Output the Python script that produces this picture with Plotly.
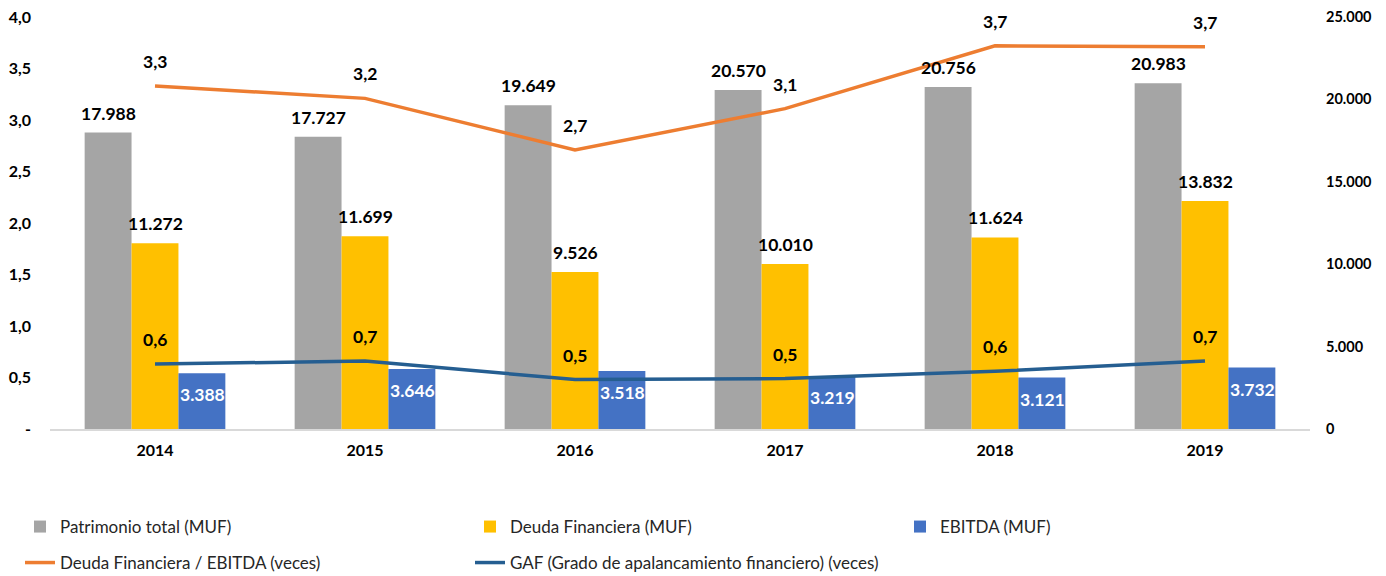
import plotly.graph_objects as go

years = ["2014", "2015", "2016", "2017", "2018", "2019"]
patrimonio = [17988, 17727, 19649, 20570, 20756, 20983]
deuda = [11272, 11699, 9526, 10010, 11624, 13832]
ebitda = [3388, 3646, 3518, 3219, 3121, 3732]
deuda_ebitda = [3.33, 3.21, 2.71, 3.11, 3.72, 3.71]
gaf = [0.63, 0.66, 0.48, 0.49, 0.56, 0.66]

left_tickvals = [0, 0.5, 1.0, 1.5, 2.0, 2.5, 3.0, 3.5, 4.0]
left_ticktext = ["-", "0,5", "1,0", "1,5", "2,0", "2,5", "3,0", "3,5", "4,0"]
right_tickvals = [0, 5000, 10000, 15000, 20000, 25000]

names = ["Patrimonio total (MUF)", "Deuda Financiera (MUF)", "EBITDA (MUF)",
         "Deuda Financiera / EBITDA (veces)",
         "GAF (Grado de apalancamiento financiero) (veces)"]

C_GRAY = "#A5A5A5"
C_YEL = "#FFC000"
C_BLUE = "#4472C4"
C_ORANGE = "#ED7D31"
C_DBLUE = "#255E91"
FONT = "Lato, 'Open Sans', sans-serif"

# legend placement (container pixels): (legend id, left x, center y)
legend_slots = [("legend", 20, 527), ("legend2", 470, 527), ("legend3", 900, 527),
                ("legend4", 20, 563), ("legend5", 470, 563)]


def fmt_int(v):
    return f"{v:,}".replace(",", ".")


def fmt_dec(v):
    return f"{v:.1f}".replace(".", ",")


fig = go.Figure()
for k, (vals, col) in enumerate([(patrimonio, C_GRAY), (deuda, C_YEL), (ebitda, C_BLUE)]):
    fig.add_trace(go.Bar(x=years, y=vals, name=names[k], marker=dict(color=col, line=dict(width=0)),
                         yaxis="y", legend=legend_slots[k][0], hoverinfo="skip"))

for k, (vals, col) in enumerate([(deuda_ebitda, C_ORANGE), (gaf, C_DBLUE)], start=3):
    fig.add_trace(go.Scatter(x=years, y=vals, name=names[k], mode="lines",
                             line=dict(color=col, width=3.5), yaxis="y2", legend=legend_slots[k][0],
                             hoverinfo="skip"))

annotations = []
for series, shift in [(patrimonio, -47), (deuda, 0)]:
    for i, v in enumerate(series):
        annotations.append(dict(x=i, y=v, xref="x", yref="y", text=fmt_int(v), showarrow=False,
                                xshift=shift, yanchor="bottom", yshift=7,
                                font=dict(family=FONT, size=17.5, color="#000000", weight="bold")))
for i, v in enumerate(ebitda):
    annotations.append(dict(x=i, y=v, xref="x", yref="y", text=fmt_int(v), showarrow=False,
                            xshift=47, yanchor="top", yshift=-9,
                            font=dict(family=FONT, size=17.5, color="#FFFFFF", weight="bold")))
for series in [deuda_ebitda, gaf]:
    for i, v in enumerate(series):
        annotations.append(dict(x=i, y=v, xref="x", yref="y2", text=fmt_dec(v), showarrow=False,
                                yanchor="bottom", yshift=12,
                                font=dict(family=FONT, size=17.5, color="#000000", weight="bold")))

legends = {}
for lid, lx, ly in legend_slots:
    legends[lid] = dict(orientation="h", xref="container", yref="container", x=lx / 1386,
                        y=1 - ly / 576, xanchor="left", yanchor="middle", visible=True,
                        font=dict(family=FONT, size=17, color="#262626"),
                        bgcolor="rgba(0,0,0,0)")

fig.update_layout(
    width=1386, height=576,
    showlegend=True,
    margin=dict(l=50, r=76, t=17, b=147, autoexpand=False),
    paper_bgcolor="white", plot_bgcolor="white",
    barmode="group", bargap=0.33, bargroupgap=0,
    separators=",.",
    font=dict(family=FONT, color="#262626"),
    xaxis=dict(type="category", range=[-0.5, len(years) - 0.5], showgrid=False, showline=True,
               linecolor="#D9D9D9", linewidth=1.5, automargin=False,
               ticks="", tickfont=dict(size=16, color="#000000", weight="bold"),
               ticklabelstandoff=6, zeroline=False),
    yaxis=dict(side="right", range=[0, 25000], tickvals=right_tickvals, tickformat=",d",
               showgrid=False, zeroline=False, showline=False, ticks="", automargin=False,
               tickfont=dict(size=14.5, color="#000000", weight="bold"), ticklabelstandoff=15),
    yaxis2=dict(overlaying="y", side="left", range=[0, 4], tickvals=left_tickvals,
                ticktext=left_ticktext, showgrid=False, zeroline=False, showline=False, ticks="",
                automargin=False,
                tickfont=dict(size=16, color="#000000", weight="bold"), ticklabelstandoff=18),
    annotations=annotations,
    **legends,
)

fig.write_html("out.html", config={"displayModeBar": False},
               post_script="document.body.style.margin='0';document.body.style.padding='0';"
                           "document.body.style.overflow='hidden';")
